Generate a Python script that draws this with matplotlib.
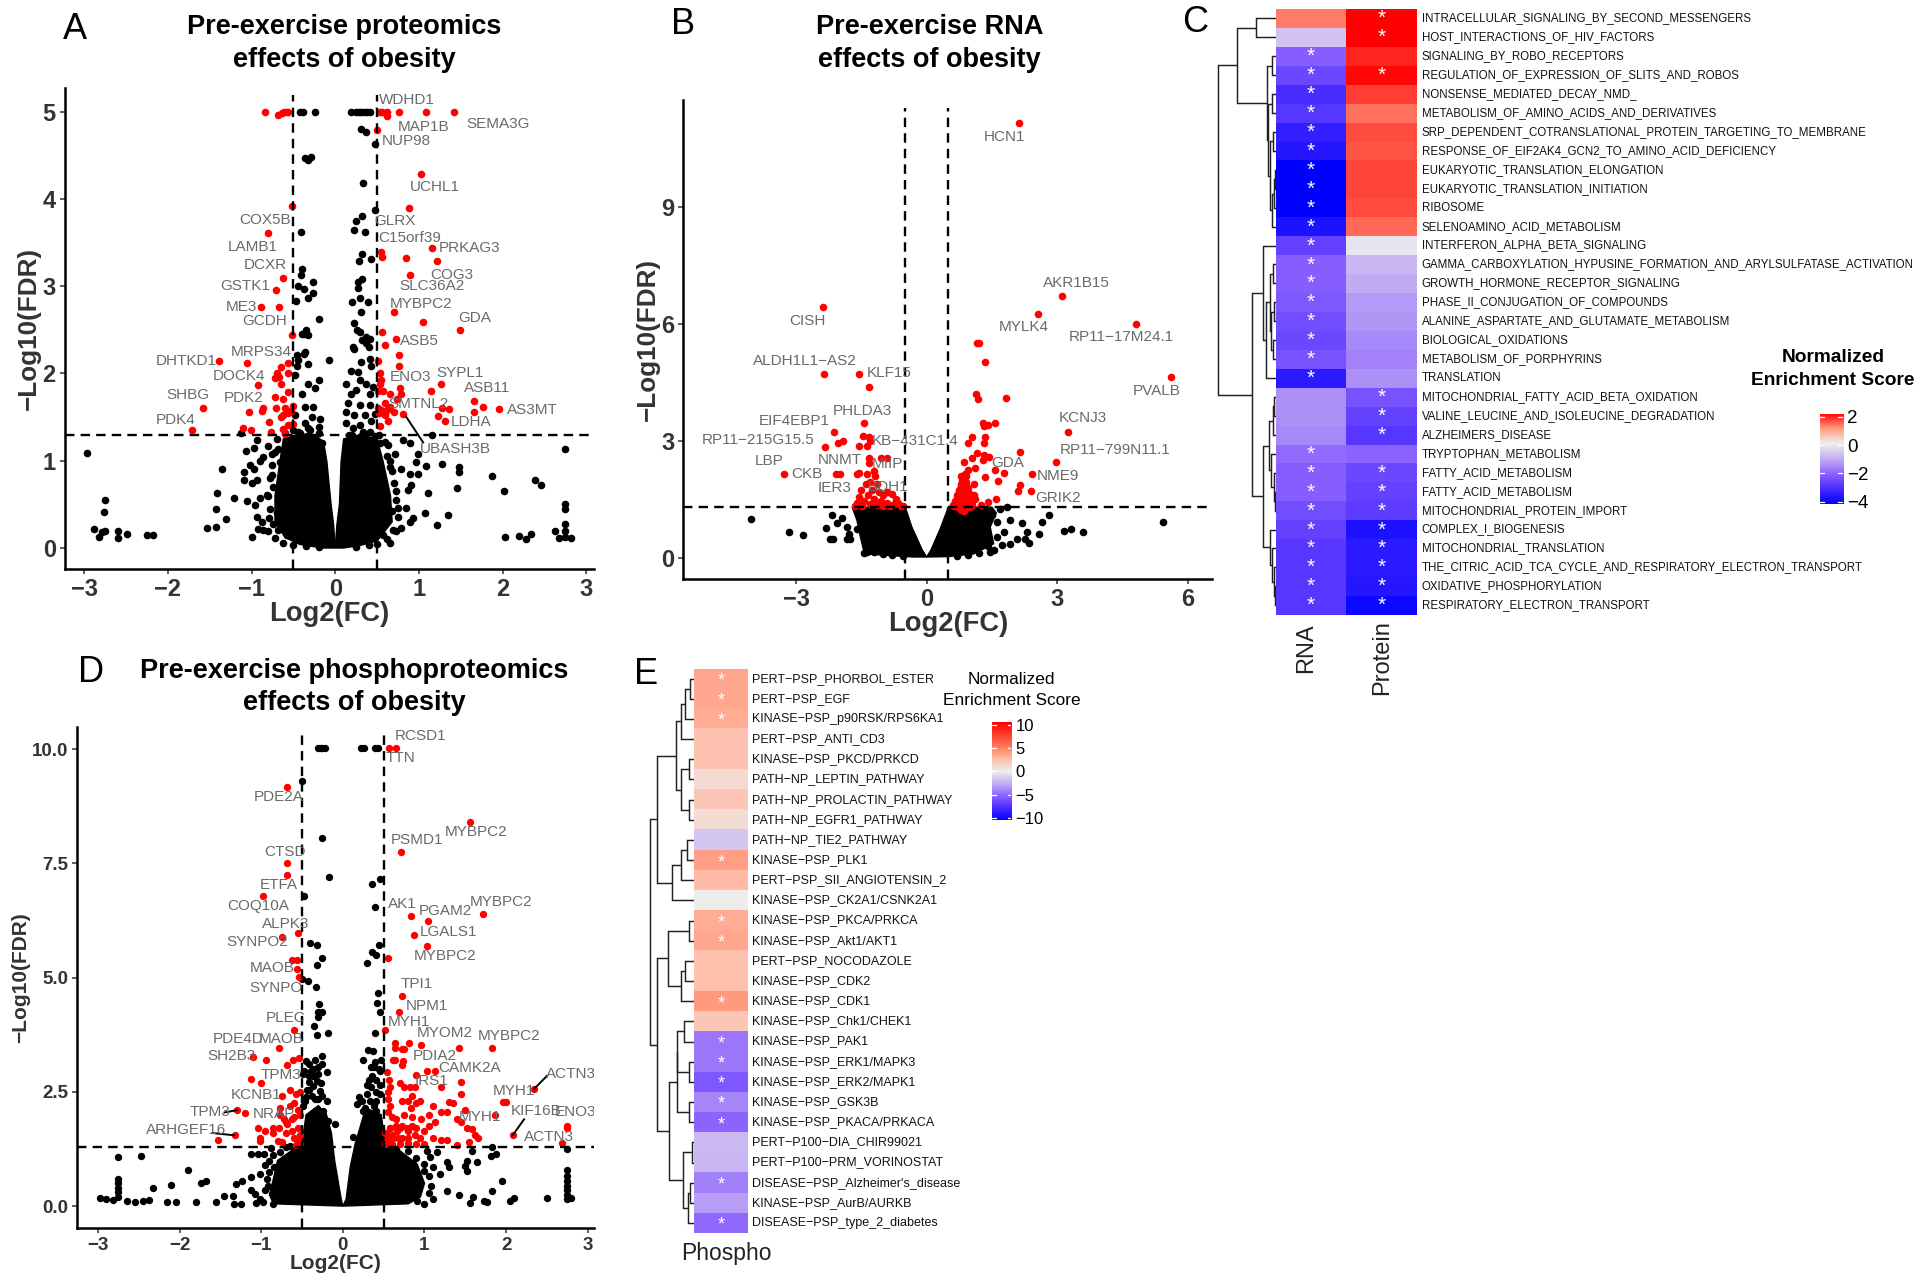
import matplotlib
matplotlib.use("Agg")
import matplotlib.pyplot as plt
import numpy as np
from matplotlib.colors import LinearSegmentedColormap

plt.rcParams['font.family'] = ['Liberation Sans', 'DejaVu Sans']

# ---------- Panel A data ----------
A_red = [(-.84,5),(-.61,5),(-.56,5),(-.58,5),(.53,5),(.56,5),(.62,5),(.76,5),(1.08,5),(1.42,5),(-.68,4.96),(-.64,4.98),(.62,4.95),(.5,4.79),
(1.02,4.29),(-.52,3.92),(.88,3.9),(-.8,3.61),(1.15,3.44),(.55,3.39),(.56,3.33),(.85,3.32),(1.22,3.29),(.89,3.13),(-.62,3.09),(-.71,2.96),(-.89,2.76),(-.67,2.76),
(.7,2.7),(1.05,2.59),(1.49,2.5),(.56,2.47),(-.52,2.44),(.73,2.39),(.59,2.33),(.76,2.21),(.51,2.14),(.76,2.09),(-1.39,2.14),(-1.06,2.12),(-.56,2.12),(-.65,2.08),(-.69,2.01),(-.56,2.0),(-.72,1.95),(-.67,1.96),(-.65,1.88),(-.92,1.87),
(.53,2.0),(.55,1.92),(.54,1.88),(1.26,1.88),(.77,1.83),(1.14,1.8),(.51,1.8),(.57,1.8),(-.56,1.79),(.66,1.76),(.79,1.76),(.74,1.71),(-.72,1.73),(-.62,1.71),(1.66,1.68),(1.77,1.62),(-1.58,1.6),(1.96,1.59),(1.66,1.56),(1.28,1.6),(1.36,1.59),(1.23,1.51),(1.31,1.45),(.81,1.54),
(-1.03,1.56),(-.86,1.6),(-.87,1.57),(-.71,1.61),(-.6,1.6),(-.5,1.63),(-.53,1.57),(-.57,1.55),(-.65,1.5),(-.62,1.53),(-.79,1.44),(-.56,1.41),(-.51,1.42),(-.62,1.36),(-.77,1.33),(-1.1,1.38),(-1.01,1.35),(-1.71,1.35),(-.6,1.31),
(.51,1.6),(.55,1.58),(.62,1.58),(.7,1.56),(.59,1.52),(.63,1.46),(.53,1.4),(.6,1.66),(.65,1.62),(.52,1.55)]
A_blk = [(-.42,5),(-.38,5),(-.24,5),(.19,5),(.25,5),(.28,5),(.31,5),(.34,5),(.38,5),(.42,5),(.31,4.8),(.37,4.77),(.48,4.63),(-.36,4.47),(-.33,4.45),(-.29,4.48),(.33,4.18),(.48,3.87),(.32,3.81),(.25,3.75),(.23,3.65),(.36,3.62),(-.41,3.62),(.32,3.37),(.43,3.31),(.28,3.29),
(-.4,3.2),(-.41,3.13),(-.45,3.0),(-.37,2.97),(-.26,3.05),(-.27,2.92),(-.33,2.86),(-.47,2.83),(-.2,2.62),(-.35,2.5),(-.37,2.45),(-.32,2.44),(-.4,2.45),(-.37,2.22),(-.45,2.15),
(.32,3.08),(.27,3.05),(.27,2.98),(.3,2.87),(.39,2.82),(.2,2.82),(.31,2.71),(.22,2.58),(.26,2.5),(.3,2.48),(.37,2.42),(.42,2.4),(.32,2.38),(.37,2.35),(.4,2.3),(.23,2.28),
# dots round the left of the dense cloud
(-1.13,1.32),(-.94,1.24),(-.97,1.15),(-1.07,1.11),(-.8,1.17),(-.76,1.08),(-.86,1.04),(-.9,1.0),(-1.02,.95),(-1.09,.87),(-.97,.91),(-.94,.78),(-1.09,.78),(-1.0,.74),(-1.35,.91),(-1.41,.63),(-1.21,.57),(-1.06,.54),(-1.42,.45),(-1.3,.33),(-1.53,.23),(-1.43,.24),(-1.0,.13),(-.96,.49),(-.94,.36),(-.9,.57),(-.82,.61),(-.76,.84),(-.79,.34),(-.88,.3),(-.92,.22),(-.86,.21),(-.68,.21),(-.66,.99),(-.68,1.14),(-.58,.15),(-.74,.27),
(-.7,1.25),(-.72,1.1),(-.75,.95),(-.78,.8),(-.8,.6),(-.78,.45),(-.8,.2),(-.72,.12),(-.62,.06),(-.5,.03),(-.35,.02),(-.2,.01),(-.6,1.32),(-.5,1.35),(-.42,1.32),(-.3,1.35),(-.2,1.32),(-.74,.7),(-.7,.4),
(-2.97,1.09),(-2.88,.22),(-2.75,.55),(-2.76,.41),(-2.82,.13),(-2.79,.18),(-2.75,.2),(-2.6,.2),(-2.6,.12),(-2.49,.16),(-2.25,.15),(-2.18,.15),
# dots round the right of the dense cloud
(1.15,1.29),(.81,1.24),(.89,1.2),(.63,1.18),(.53,1.2),(.71,1.08),(.99,1.08),(.97,.99),(1.09,.94),(1.27,.96),(1.48,.93),(1.48,.87),(1.46,.69),(1.11,.63),(.99,.85),(.89,.85),(.79,.91),(.91,.72),(.87,.67),(.65,.93),(.73,.65),(.85,.46),(1.07,.4),(1.35,.38),(1.21,.26),(.93,.34),(.89,.3),(.79,.23),(.69,.21),(.65,.06),(.57,.15),(.75,.46),
(.6,1.22),(.62,1.05),(.68,.88),(.7,.75),(.72,.55),(.75,.35),(.72,.2),(.62,.1),(.5,.05),(.4,.03),(.25,.01),(.52,1.3),(.33,1.33),(.2,1.3),(.66,1.0),(.68,.42),
(2.75,1.13),(2.75,.5),(2.75,.45),(2.75,.27),(2.75,.2),(2.62,.2),(2.67,.12),(2.75,.13),(2.82,.12),(2.03,.13),(2.2,.14),(2.28,.1),(2.34,.16),(1.87,.82),(2.02,.65),(2.39,.78),(2.46,.72),
# dots of the two stems above the cloud
(-.46,2.21),(-.36,2.25),(-.33,2.11),(-.46,2.09),(-.2,1.92),(-.48,1.98),(-.32,1.88),(-.24,1.83),(-.4,1.77),(-.36,1.62),(-.26,1.62),(-.28,1.5),(-.18,1.48),(-.2,1.39),(-.36,1.43),(-.48,1.52),(-.32,1.37),(-.44,1.33),(-.24,1.24),(-.16,1.2),(-.34,1.28),(-.07,2.16),
(.21,2.3),(.31,2.13),(.19,2.03),(.13,1.88),(.41,2.17),(.43,2.09),(.27,2.02),(.29,1.92),(.25,1.81),(.41,1.77),(.19,1.77),(.37,1.88),(.45,1.85),(.15,1.66),(.29,1.64),(.41,1.64),(.47,1.54),(.13,1.56),(.23,1.52),(.35,1.52),(.13,1.43),(.21,1.37),(.29,1.41),(.43,1.45),(.17,1.29),(.41,1.33),(.31,1.28),(.47,1.28)]
A_cloud_lx = [-.02,-.05,-.1,-.14,-.25,-.45,-.62,-.66,-.72,-.72,-.6,-.42,-.15,0]
A_cloud_ly = [.27,.5,.99,1.22,1.3,1.3,1.25,1.0,.6,.3,.12,.04,0,0]
A_cloud_rx = [.02,.05,.07,.1,.3,.5,.57,.66,.68,.5,.3,.1,0]
A_cloud_ry = [.27,.5,.99,1.25,1.3,1.25,1.0,.6,.3,.08,.03,0,0]
A_genes = [("WDHD1",.86,5.14),("MAP1B",1.05,4.83),("SEMA3G",1.95,4.86),("NUP98",.85,4.66),("UCHL1",1.19,4.14),("COX5B",-.84,3.76),("GLRX",.71,3.75),("C15orf39",.89,3.55),("PRKAG3",1.6,3.44),("LAMB1",-.98,3.45),("DCXR",-.83,3.24),("COG3",1.39,3.13),("SLC36A2",1.15,3.0),("GSTK1",-1.08,3.0),("MYBPC2",1.02,2.8),("ME3",-1.12,2.76),("GCDH",-.84,2.6),("GDA",1.66,2.64),("ASB5",1.0,2.37),("MRPS34",-.89,2.25),("DHTKD1",-1.78,2.14),("DOCK4",-1.15,1.97),("ENO3",.9,1.96),("SYPL1",1.49,2.01),("ASB11",1.82,1.83),("SHBG",-1.76,1.75),("PDK2",-1.1,1.72),("SMTNL2",.99,1.65),("AS3MT",2.36,1.58),("LDHA",1.62,1.44),("PDK4",-1.91,1.47),("UBASH3B",1.43,1.13)]
A_links = [((.85,1.5),(1.05,1.21))]

# ---------- Panel B data ----------
B_red = [(2.13,11.17),(3.1,6.72),(-2.39,6.43),(2.55,6.26),(4.81,6.01),(1.15,5.52),(1.2,5.52),(1.35,5.04),(5.62,4.64),(-2.35,4.72),(-1.55,4.72),(-1.33,4.39),(1.13,4.21),(1.19,4.08),(1.83,4.1),(1.56,3.46),(1.3,3.46),(1.41,3.41),(1.31,3.38),(-1.45,3.45),(-2.13,3.24),(3.25,3.24),(-1.47,3.13),(-1.32,3.09),(1.05,3.09),(1.35,3.11),(-1.92,3.0),(-2.03,2.94),(-1.29,2.99),(.96,2.94),(1.32,2.94),(-2.33,2.85),(-1.55,2.86),(-1.38,2.86),(2.15,2.72),(1.16,2.7),(1.31,2.65),(1.43,2.59),(1.04,2.57),(1.3,2.51),(-1.32,2.57),(-1.05,2.57),(-.9,2.57),(-1.32,2.44),(2.96,2.47),(.86,2.47),(1.11,2.31),(.96,2.26),(1.56,2.25),(1.78,2.18),(2.42,2.16),(-3.28,2.16),(-2.08,2.14),(-1.99,2.16),(-1.55,2.18),(-1.59,2.14),(-1.2,2.24),(-1.36,2.14),(-1.19,2.1),(1.35,2.08),(.8,2.1),(.89,2.16),(1.63,1.97),(2.15,1.86),(2.09,1.72),(2.4,1.71),(1.08,1.89),(1.59,1.51),(1.41,1.43),(1.24,1.35),
(.8,1.9),(.9,1.95),(.75,1.75),(.85,1.75),(.95,1.8),(.7,1.6),(.8,1.6),(.9,1.6),(1.0,1.65),(.65,1.45),(.75,1.45),(.85,1.45),(.95,1.5),(1.05,1.45),(.6,1.35),(.7,1.33),(.8,1.33),(.9,1.33),(1.0,1.33),(1.1,1.5),(.78,1.22),(.85,1.2),
(.65,1.38),(.75,1.38),(.85,1.38),(.95,1.38),(.7,1.5),(.8,1.5),(.9,1.5),(1.0,1.5),(.75,1.7),(.85,1.65),(.95,1.65),(.8,1.85),(.9,1.85),(.82,2.0),(.9,2.1),(1.05,1.35),(1.08,1.6),(.62,1.33),(.72,1.3),(.82,1.3),(.92,1.3),(1.0,1.3),
(-1.3,1.95),(-1.4,1.9),(-1.5,1.75),(-1.55,1.55),(-1.6,1.4),(-1.65,1.33),(-1.45,1.45),(-1.35,1.6),(-1.25,1.75),(-1.15,1.9),(-1.1,1.7),(-1.0,1.6),(-.9,1.7),(-.8,1.65),(-.7,1.5),(-.65,1.4),(-.6,1.33),(-1.2,1.5),(-1.05,1.45),(-.9,1.4),(-.75,1.38),(-1.3,1.38),(-1.15,1.35),(-1.0,1.33),(-.85,1.33),(-1.48,1.33),(-.55,1.33)]
B_blk = [(-4.03,1.0),(-3.17,.66),(-2.83,.58),(-2.17,1.09),(-1.94,1.03),(-2.06,.9),(-1.83,.8),(-2.31,.77),(-2.21,.49),(-2.15,.49),(-1.79,.62),(-1.83,.49),(-1.75,.49),(-1.6,.74),(-1.36,.15),(-1.2,.15),(-1.45,.12),(-1.0,.1),(-.8,.06),(-.55,.04),
(1.85,1.3),(1.69,1.26),(1.92,.98),(2.19,.9),(1.62,.92),(1.77,.66),(1.62,.53),(2.3,.66),(2.27,.49),(2.34,.38),(2.07,.49),(1.92,.36),(1.73,.32),(2.65,.93),(2.8,1.09),(3.16,.68),(3.32,.74),(2.57,.62),(3.6,.67),(5.42,.93),(1.4,.3),(1.55,.2),(1.5,1.1),(1.45,.15),(1.2,.12),(.95,.08),(.7,.05)]
B_cloud_lx = [-1.71,-.49,-.34,-.1,0,-.3,-.9,-1.38,-1.45,-1.52,-1.6]
B_cloud_ly = [1.3,1.3,.79,.2,.02,.02,.06,.1,.2,.53,.96]
B_cloud_rx = [.5,1.5,1.6,1.46,1.54,1.08,.5,0,.1,.31]
B_cloud_ry = [1.3,1.3,1.15,.79,.36,.1,.03,.02,.2,.74]
B_genes = [("HCN1",1.78,10.82),("AKR1B15",3.43,7.05),("CISH",-2.73,6.09),("MYLK4",2.22,5.93),("RP11\u221217M24.1",4.48,5.68),("ALDH1L1\u2212AS2",-2.8,5.05),("KLF15",-.87,4.74),("PVALB",5.29,4.29),("PHLDA3",-1.47,3.77),("KCNJ3",3.59,3.58),("EIF4EBP1",-3.03,3.51),("RP11\u2212215G15.5",-3.87,3.02),("KB\u2212431C1.4",-.26,2.99),("RP11\u2212799N11.1",4.33,2.78),("LBP",-3.62,2.49),("NNMT",-2.0,2.52),("MIIP",-.9,2.42),("GDA",1.87,2.43),("CKB",-2.76,2.16),("NME9",3.02,2.1),("IER3",-2.11,1.79),("BDH1",-.88,1.82),("GRIK2",3.03,1.53)]

# ---------- Panel D data ----------
D_red = [(.57,10.03),(.65,10.03),(-.69,9.17),(1.56,8.41),(.71,7.75),(-.68,7.51),(-.69,7.24),(-.98,6.78),(1.72,6.39),(.84,6.36),(1.04,6.23),(.87,5.94),(-.55,5.97),(-.75,5.9),(1.03,5.69),(.55,5.44),(-.62,5.38),(-.56,5.38),(-.56,5.18),(-.54,5.02),(.73,4.59),(.69,4.25),(.52,3.86),(-.6,3.86),(.64,3.56),(.81,3.57),(.96,3.52),(1.42,3.45),(1.83,3.47),(.64,3.46),(.72,3.43),(.75,3.43),(-.78,3.46),(-1.1,3.27),(-.94,3.19),(-.61,3.19),(-.54,3.24),(-.68,3.09),(.61,3.19),(.64,3.2),(.74,3.17),(.73,3.08),(.54,2.94),(1.03,2.95),(1.13,2.95),(.89,2.86),(-1.12,2.78),(-1.0,2.7),
(.56,2.75),(.58,2.6),(.55,2.5),(.7,2.7),(.75,2.6),(.82,2.6),(.88,2.6),(1.2,2.6),(1.45,2.72),(1.45,2.45),(.55,2.35),(.58,2.2),(.72,2.3),(.8,2.3),(.85,2.4),(.9,2.25),(.83,2.15),(.95,2.3),(1.1,2.2),(1.3,2.28),(1.35,2.25),(1.28,2.05),(1.2,2.05),(1.5,2.1),(1.86,2.0),(1.96,2.27),(2.0,2.28),(2.34,2.56),(.55,2.05),(.6,1.95),(.65,1.9),(.75,2.0),(.85,1.95),(.96,1.9),(1.05,2.0),(1.13,1.85),(1.05,1.75),(1.4,1.9),(1.45,1.85),(1.52,1.72),(1.58,1.68),(1.62,1.55),(1.66,1.5),(1.55,1.4),(1.4,1.33),(1.28,1.45),(1.2,1.45),(1.1,1.5),(1.0,1.65),(.9,1.7),(.85,1.75),(.8,1.65),(.72,1.75),(.65,1.75),(.58,1.7),(.52,1.6),(.55,1.5),(.6,1.55),(.67,1.5),(.73,1.5),(.8,1.5),(.88,1.55),(.95,1.5),(1.0,1.35),(.9,1.35),(.8,1.38),(.7,1.35),(.6,1.35),(.52,1.35),(.58,1.42),(2.08,1.55),(2.68,1.38),(2.75,1.75),(2.75,1.7),
(.54,1.58),(.58,1.72),(.62,1.5),(.66,1.65),(.7,1.72),(.78,1.72),(.54,1.43),
(-1.3,2.1),(-1.2,2.03),(-1.32,1.55),(-1.53,1.45),(-1.04,1.7),(-.95,1.65),(-1.02,1.5),(-1.02,1.42),(-.85,1.6),(-.8,1.42),(-.75,1.4),(-.85,1.72),(-.78,1.7),(-.7,1.6),(-.62,1.65),(-.55,1.7),(-.6,1.5),(-.52,1.55),(-.72,1.9),(-.77,2.15),(-.77,2.0),(-.75,2.4),(-.65,2.55),(-.58,2.45),(-.52,2.5),(-.65,2.2),(-.6,2.25),(-.55,2.1),(-.52,2.0),(-.6,1.95),(-.68,1.8),(-.55,1.4),(-.52,1.35),(-.58,1.33),(-.55,1.5),(-.62,1.9),(-.7,1.85)]
D_blk = [(-.3,10.03),(-.27,10.03),(-.25,10.03),(-.22,10.03),(.22,10.03),(.26,10.03),(.39,10.03),(.43,10.03),(-.5,9.3),(-.26,8.05),(-.17,7.2),(.46,7.15),(.36,7.05),(-.47,6.78),(.39,6.55),(-.4,5.75),(-.32,5.72),(.44,5.72),(.36,5.57),(.4,5.5),(-.26,5.42),(.3,5.33),(-.32,5.27),(-.5,4.97),(-.43,4.93),(-.33,4.8),(.43,4.67),(.42,4.45),(-.29,4.42),(-.3,4.25),(-.26,4.25),(-.31,4.15),(.46,4.25),(-.35,3.95),(-.18,3.8),(.39,3.8),(-.32,3.75),
# stems above the cloud
(-.26,3.29),(-.45,3.18),(-.34,3.2),(-.49,2.89),(-.39,2.96),(-.2,2.93),(-.41,2.71),(-.32,2.74),(-.28,2.53),(-.45,2.38),(-.34,2.34),(-.49,2.2),(-.24,2.09),(-.34,2.09),(-.1,1.8),(-.18,1.87),(-.42,3.1),(-.3,3.05),(-.36,2.85),(-.44,2.55),
(-.42,2.55),(-.38,2.4),(-.46,2.3),(-.3,2.35),(-.27,2.7),(-.36,3.0),(-.47,2.95),(-.42,2.85),(-.3,2.9),(-.25,3.1),(-.37,2.62),(-.25,2.4),(-.2,2.3),
(.31,3.42),(.37,3.39),(.25,3.2),(.39,3.15),(.35,3.04),(.45,2.96),(.29,2.64),(.35,2.6),(.45,2.64),(.2,2.38),(.33,2.31),(.41,2.31),(.17,2.23),(.25,2.09),(.41,2.09),(.13,1.52),(.47,3.2),(.41,2.75),
(.3,2.45),(.4,2.5),(.46,2.45),(.24,2.3),(.38,2.2),(.32,2.75),(.36,2.85),(.44,3.0),(.38,3.05),(.27,2.15),
# left tail
(-1.12,1.15),(-1.04,1.15),(-.96,1.14),(-.88,1.28),(-.77,1.18),(-.9,.99),(-.84,.85),(-1.02,.7),(-1.12,.63),(-1.23,.55),(-1.31,.48),(-.92,.45),(-1.12,.36),(-1.08,.26),(-1.02,.15),(-1.06,.06),(-1.45,.23),(-1.35,.23),(-1.55,.09),(-1.33,.04),(-1.25,.04),(-1.68,.55),(-1.74,.5),(-1.9,.8),(-2.05,.08),(-2.15,.08),(-1.8,.1),(-2.33,.4),(-2.1,.47),
(-.95,.9),(-.9,.75),(-.93,.6),(-.95,.35),(-.98,.1),(-.85,.04),(-.7,1.3),(-.65,1.32),(-.85,1.12),
(-2.75,1.07),(-2.47,1.1),(-2.98,.18),(-2.9,.15),(-2.82,.14),(-2.75,.6),(-2.75,.5),(-2.75,.4),(-2.75,.3),(-2.75,.2),(-2.65,.12),(-2.55,.1),(-2.45,.12),(-2.38,.13),
# right tail
(1.83,1.3),(1.58,1.21),(1.07,1.07),(1.15,1.18),(1.27,.96),(1.3,.85),(1.52,.99),(1.5,.88),(1.64,.96),(1.81,1.1),(1.87,1.14),(1.52,.77),(1.27,.34),(1.42,.25),(1.6,.2),(1.83,.34),(1.73,.12),(1.56,.06),(1.77,.08),(1.11,.85),(1.19,.7),(1.03,1.21),(.91,.12),(.86,.92),(.99,.77),(1.95,.55),(2.05,.12),(2.1,.18),(2.5,.18),
(.8,1.2),(.9,1.05),(1.0,.92),(1.05,.65),(1.08,.45),(1.05,.28),(1.1,.15),(1.0,.05),(.65,1.25),
(2.75,1.25),(2.75,.78),(2.75,.65),(2.75,.55),(2.75,.45),(2.75,.35),(2.75,.25),(2.75,.15),(2.8,.18)]
D_cloud_lx = [-.02,-.1,-.14,-.2,-.3,-.45,-.5,-.6,-.8,-.85,-.9,-.85,0]
D_cloud_ly = [.15,.99,1.6,2.0,2.2,2.0,1.4,1.25,1.0,.6,.25,.05,0]
D_cloud_rx = [.04,.09,.15,.21,.28,.47,.52,.7,.91,1.0,.95,.8,0]
D_cloud_ry = [.15,.85,1.36,1.72,2.15,2.0,1.35,1.21,.92,.5,.2,.05,0]
D_genes = [("RCSD1",.95,10.29),("TTN",.7,9.8),("PDE2A",-.78,8.95),("MYBPC2",1.63,8.19),("PSMD1",.91,8.01),("CTSD",-.71,7.76),("ETFA",-.78,7.03),("AK1",.73,6.61),("COQ10A",-1.04,6.56),("MYBPC2",1.94,6.65),("PGAM2",1.25,6.47),("ALPK3",-.7,6.18),("LGALS1",1.3,6.0),("SYNPO2",-1.05,5.78),("MYBPC2",1.25,5.48),("MAOB",-.86,5.22),("SYNPO",-.82,4.77),("TPI1",.9,4.86),("NPM1",1.03,4.37),("PLEC",-.7,4.12),("MYH1",.81,4.04),("MYOM2",1.25,3.78),("MYBPC2",2.04,3.73),("PDE4D",-1.28,3.65),("MAOB",-.75,3.65),("SH2B3",-1.36,3.29),("PDIA2",1.13,3.29),("CAMK2A",1.55,3.02),("TPM3",-.76,2.87),("IRS1",1.09,2.73),("ACTN3",2.8,2.9),("MYH1",2.1,2.53),("KCNB1",-1.06,2.44),("KIF16B",2.37,2.08),("ENO3",2.85,2.06),("TPM3",-1.63,2.07),("NRAP",-.85,2.01),("MYH1",1.68,1.95),("ARHGEF16",-1.92,1.66),("ACTN3",2.52,1.51)]
D_links = [((2.34,2.56),(2.5,2.85)),((2.08,1.55),(2.22,1.9)),((-1.45,2.05),(-1.3,2.1)),((-1.6,1.6),(-1.33,1.55))]

# ---------- Panel C data ----------
C_terms = ["INTRACELLULAR_SIGNALING_BY_SECOND_MESSENGERS","HOST_INTERACTIONS_OF_HIV_FACTORS","SIGNALING_BY_ROBO_RECEPTORS","REGULATION_OF_EXPRESSION_OF_SLITS_AND_ROBOS","NONSENSE_MEDIATED_DECAY_NMD_","METABOLISM_OF_AMINO_ACIDS_AND_DERIVATIVES","SRP_DEPENDENT_COTRANSLATIONAL_PROTEIN_TARGETING_TO_MEMBRANE","RESPONSE_OF_EIF2AK4_GCN2_TO_AMINO_ACID_DEFICIENCY","EUKARYOTIC_TRANSLATION_ELONGATION","EUKARYOTIC_TRANSLATION_INITIATION","RIBOSOME","SELENOAMINO_ACID_METABOLISM","INTERFERON_ALPHA_BETA_SIGNALING","GAMMA_CARBOXYLATION_HYPUSINE_FORMATION_AND_ARYLSULFATASE_ACTIVATION","GROWTH_HORMONE_RECEPTOR_SIGNALING","PHASE_II_CONJUGATION_OF_COMPOUNDS","ALANINE_ASPARTATE_AND_GLUTAMATE_METABOLISM","BIOLOGICAL_OXIDATIONS","METABOLISM_OF_PORPHYRINS","TRANSLATION","MITOCHONDRIAL_FATTY_ACID_BETA_OXIDATION","VALINE_LEUCINE_AND_ISOLEUCINE_DEGRADATION","ALZHEIMERS_DISEASE","TRYPTOPHAN_METABOLISM","FATTY_ACID_METABOLISM","FATTY_ACID_METABOLISM","MITOCHONDRIAL_PROTEIN_IMPORT","COMPLEX_I_BIOGENESIS","MITOCHONDRIAL_TRANSLATION","THE_CITRIC_ACID_TCA_CYCLE_AND_RESPIRATORY_ELECTRON_TRANSPORT","OXIDATIVE_PHOSPHORYLATION","RESPIRATORY_ELECTRON_TRANSPORT"]
C_rna = [1.2,-.7,-2.1,-2.5,-3.0,-2.8,-3.3,-3.5,-4,-4,-4,-3.6,-2.6,-2.1,-2.1,-2.2,-2.4,-2.5,-2.3,-3.4,-1.4,-1.4,-1.5,-1.9,-2.1,-2.1,-2.4,-2.6,-2.8,-2.8,-2.8,-2.8]
C_prot = [2,2,1.75,1.95,1.6,1.25,1.5,1.45,1.55,1.55,1.5,1.3,-.15,-.9,-1.05,-1.3,-1.35,-1.5,-1.6,-1.4,-2.3,-2.6,-2.8,-2.0,-2.5,-2.6,-2.7,-3.6,-3.4,-3.4,-3.5,-3.8]
C_rna_sig = [0,0]+[1]*18+[0,0,0]+[1]*9
C_prot_sig = [1,1,0,1]+[0]*16+[1,1,1,0]+[1]*8
C_tree = (1.0,(.675,(.35,0,1),(.15,(.07,2,3),(.13,(.06,4,5),(.1,(.05,6,7),(.07,(.03,(.015,8,9),10),11))))),
          (.415,(.22,12,(.17,(.1,(.05,13,14),(.08,(.04,15,16),(.05,17,18))),19)),
           (.22,(.12,(.05,(.03,20,21),22),(.09,23,(.04,24,(.02,25,26)))),(.1,27,(.06,28,(.03,29,(.015,30,31)))))))

# ---------- Panel E data ----------
E_terms = ["PERT\u2212PSP_PHORBOL_ESTER","PERT\u2212PSP_EGF","KINASE\u2212PSP_p90RSK/RPS6KA1","PERT\u2212PSP_ANTI_CD3","KINASE\u2212PSP_PKCD/PRKCD","PATH\u2212NP_LEPTIN_PATHWAY","PATH\u2212NP_PROLACTIN_PATHWAY","PATH\u2212NP_EGFR1_PATHWAY","PATH\u2212NP_TIE2_PATHWAY","KINASE\u2212PSP_PLK1","PERT\u2212PSP_SII_ANGIOTENSIN_2","KINASE\u2212PSP_CK2A1/CSNK2A1","KINASE\u2212PSP_PKCA/PRKCA","KINASE\u2212PSP_Akt1/AKT1","PERT\u2212PSP_NOCODAZOLE","KINASE\u2212PSP_CDK2","KINASE\u2212PSP_CDK1","KINASE\u2212PSP_Chk1/CHEK1","KINASE\u2212PSP_PAK1","KINASE\u2212PSP_ERK1/MAPK3","KINASE\u2212PSP_ERK2/MAPK1","KINASE\u2212PSP_GSK3B","KINASE\u2212PSP_PKACA/PRKACA","PERT\u2212P100\u2212DIA_CHIR99021","PERT\u2212P100\u2212PRM_VORINOSTAT","DISEASE\u2212PSP_Alzheimer's_disease","KINASE\u2212PSP_AurB/AURKB","DISEASE\u2212PSP_type_2_diabetes"]
E_vals = [3.3,3.3,3.1,2.2,2.2,1.0,2.0,.9,-1.6,3.6,2.5,0,3.1,3.3,2.3,2.4,3.8,2.0,-4.3,-4.3,-5.5,-3.9,-5.0,-2.1,-2.2,-4.0,-3.1,-4.8]
E_sig = [1,1,1,0,0,0,0,0,0,1,0,0,1,1,0,0,1,0,1,1,1,1,1,0,0,1,0,1]
E_tree = (1.0,(.84,(.41,(.31,(.2,(.1,0,1),2),3),(.3,(.12,4,5),(.13,6,7))),(.51,(.3,(.17,8,9),10),11)),
          (.84,(.6,(.13,12,13),(.31,(.2,14,15),16)),(.56,(.38,(.38,(.24,17,18),(.12,19,20)),(.13,21,22)),(.25,(.05,23,24),(.15,(.1,25,26),27)))))

# ---------- helpers ----------
W, H = 1920, 1286
R = 1920/1568
fig = plt.figure(figsize=(W/100, H/100), dpi=100, facecolor='white')

def box(l, t, r, b):
    return fig.add_axes([l*R/W, 1-b*R/H, (r-l)*R/W, (b-t)*R/H])

def ftext(x, y, s, **kw):
    fig.text(x*R/W, 1-y*R/H, s, ha=kw.pop('ha','center'), va=kw.pop('va','center'), **kw)

def volcano(ax, red, blk, cl, cr, genes, links, xlim, ylim, xticks, yticks, yfmt, s, tick_fs, xlab_fs, ylab_fs, lab_pad):
    ax.set_xlim(*xlim); ax.set_ylim(*ylim)
    ax.fill(cl[0], cl[1], color='black', lw=1, zorder=1)
    ax.fill(cr[0], cr[1], color='black', lw=1, zorder=1)
    bx, by = zip(*blk); ax.scatter(bx, by, s=s, c='black', linewidths=0, zorder=2)
    rx, ry = zip(*red); ax.scatter(rx, ry, s=s, c='#ff0000', linewidths=0, zorder=3)
    for v in (-.5, .5):
        ax.axvline(v, ymax=.985, color='black', lw=1.7, ls=(0,(4,2.6)), zorder=4)
    ax.axhline(1.3, color='black', lw=1.7, ls=(0,(4,2.6)), zorder=4)
    for (a, b) in links:
        ax.plot([a[0], b[0]], [a[1], b[1]], color='black', lw=1.4, zorder=4)
    for g, x, y in genes:
        ax.text(x, y, g, color='#6a6a6a', fontsize=11, ha='center', va='center', clip_on=True, zorder=5)
    for sp in ('top', 'right'):
        ax.spines[sp].set_visible(False)
    for sp in ('left', 'bottom'):
        ax.spines[sp].set_linewidth(1.8)
    ax.set_xticks(xticks); ax.set_yticks(yticks)
    ax.set_yticklabels([yfmt.format(v) for v in yticks])
    ax.set_xticklabels([str(v).replace('-', '\u2212') for v in xticks])
    ax.tick_params(length=3.5, width=1.1, color='#333333', labelsize=tick_fs, labelcolor='#333333', pad=3)
    for t in ax.get_xticklabels()+ax.get_yticklabels():
        t.set_fontweight('bold')
    ax.set_xlabel('Log2(FC)', fontsize=xlab_fs, fontweight='bold', color='#333333', labelpad=lab_pad)
    ax.set_ylabel('\u2212Log10(FDR)', fontsize=ylab_fs, fontweight='bold', color='#333333', labelpad=lab_pad+1)

def tree(ax, node):
    if not isinstance(node, tuple):
        return float(node), 0.0
    h, a, b = node
    ya, ha = tree(ax, a); yb, hb = tree(ax, b)
    ax.plot([ha, h, h, hb], [ya, ya, yb, yb], color='#222222', lw=1.05, solid_capstyle='butt', solid_joinstyle='miter')
    return (ya+yb)/2, h

def dendro(l, t, r, b, node, n):
    ax = box(l, t, r, b)
    ax.set_xlim(1.02, 0); ax.set_ylim(n-.5, -.5); ax.axis('off')
    tree(ax, node)

stops = ['#0000ff', '#4a2dff', '#8d63ff', '#c5b0f3', '#eeeeee', '#ff9a80', '#ff0000']
pos_c = [0, 1/6, 2/6, .5, 4/6, 5/6, 1]
cmap_c = LinearSegmentedColormap.from_list('c', list(zip(pos_c, stops)))
pos_e = [0, .125, .25, .375, .5, .625, .75, 1]
stops_e = ['#0000ff', '#4a2dff', '#8d63ff', '#c5b0f3', '#eeeeee', '#ffbda8', '#ff7a5a', '#ff0000']
cmap_e = LinearSegmentedColormap.from_list('e', list(zip(pos_e, stops_e)))

def colorbar(l, t, r, b, vmin, vmax, cmap, ticks, fs):
    ax = box(l, t, r, b)
    grad = np.linspace(vmax, vmin, 256).reshape(-1, 1)
    ax.imshow(grad, cmap=cmap, vmin=vmin, vmax=vmax, aspect='auto', extent=[0, 1, vmin, vmax])
    for sp in ax.spines.values():
        sp.set_visible(False)
    ax.set_xticks([])
    ax.yaxis.tick_right()
    ax.set_yticks(ticks)
    ax.set_yticklabels([str(v).replace('-', '\u2212') for v in ticks])
    ax.tick_params(axis='y', length=0, labelsize=fs, pad=3)
    for v in ticks:
        ax.plot([0, .2], [v, v], color='white', lw=.9)
        ax.plot([.8, 1], [v, v], color='white', lw=.9)
    ax.set_xlim(0, 1); ax.set_ylim(vmin, vmax)

TS = 19.5
# ---------- Panel A ----------
axA = box(53, 72, 485, 465)
volcano(axA, A_red, A_blk, (A_cloud_lx, A_cloud_ly), (A_cloud_rx, A_cloud_ry), A_genes, A_links,
        (-3.23, 3.09), (-.245, 5.27), [-3,-2,-1,0,1,2,3], [0,1,2,3,4,5], '{}', 30, 17, 19.7, 18.8, 0)
ftext(281, 22, 'Pre-exercise proteomics', fontsize=TS, fontweight='bold')
ftext(281, 49, 'effects of obesity', fontsize=TS, fontweight='bold')
ftext(61, 24, 'A', fontsize=26)

# ---------- Panel B ----------
axB = box(558, 82, 990, 473)
volcano(axB, B_red, B_blk, (B_cloud_lx, B_cloud_ly), (B_cloud_rx, B_cloud_ry), B_genes, [],
        (-5.59, 6.56), (-.55, 11.75), [-3,0,3,6], [0,3,6,9], '{}', 30, 17, 19.7, 18.8, 0)
ftext(759, 22, 'Pre-exercise RNA', fontsize=TS, fontweight='bold')
ftext(759, 49, 'effects of obesity', fontsize=TS, fontweight='bold')
ftext(558, 20, 'B', fontsize=26)

# ---------- Panel D ----------
axD = box(63, 594, 485, 1003)
volcano(axD, D_red, D_blk, (D_cloud_lx, D_cloud_ly), (D_cloud_rx, D_cloud_ry), D_genes, D_links,
        (-3.255, 3.075), (-.483, 10.48), [-3,-2,-1,0,1,2,3], [0,2.5,5,7.5,10], '{:.1f}', 28, 13.5, 15, 15, 0)
ftext(289, 548, 'Pre-exercise phosphoproteomics', fontsize=TS, fontweight='bold')
ftext(289, 574, 'effects of obesity', fontsize=TS, fontweight='bold')
ftext(74, 549, 'D', fontsize=26)

# ---------- Panel C ----------
ctop, cbot = 7.3, 502
axC = box(1042, ctop, 1157, cbot)
matC = np.column_stack([C_rna, C_prot])
axC.imshow(matC, cmap=cmap_c, vmin=-4, vmax=2, aspect='auto', interpolation='nearest')
axC.axis('off')
for i in range(len(C_terms)):
    if C_rna_sig[i]:
        axC.text(0, i+.02, '*', color='white', fontsize=15, ha='center', va='center')
    if C_prot_sig[i]:
        axC.text(1, i+.02, '*', color='white', fontsize=15, ha='center', va='center')
    ftext(1161, ctop+(i+.5)*(cbot-ctop)/32, C_terms[i], fontsize=8.3, ha='left', color='#111111')
dendro(994, ctop, 1042, cbot, C_tree, 32)
ftext(1067, 529, 'RNA', fontsize=17, rotation=90, color='#222222')
ftext(1129, 537, 'Protein', fontsize=17, rotation=90, color='#222222')
ftext(1497, 292, 'Normalized', fontsize=13.8, fontweight='bold')
ftext(1497, 311, 'Enrichment Score', fontsize=13.8, fontweight='bold')
ftext(976, 18, 'C', fontsize=26)
colorbar(1486, 338, 1505, 412, -4.2, 2.2, cmap_c, [2,0,-2,-4], 13.5)

# ---------- Panel E ----------
etop, ebot = 546, 1007
axE = box(567, etop, 611, ebot)
axE.imshow(np.array(E_vals).reshape(-1, 1), cmap=cmap_e, vmin=-10, vmax=10, aspect='auto', interpolation='nearest')
axE.axis('off')
for i in range(len(E_terms)):
    if E_sig[i]:
        axE.text(0, i+.12, '*', color='white', fontsize=13, ha='center', va='center')
    ftext(614, etop+(i+.5)*(ebot-etop)/28, E_terms[i], fontsize=9, ha='left', color='#111111')
dendro(530, etop, 567, ebot, E_tree, 28)
ftext(593, 1024, 'Phospho', fontsize=16.5, color='#222222')
ftext(826, 555, 'Normalized', fontsize=12.4)
ftext(826, 572, 'Enrichment Score', fontsize=12.4)
ftext(528, 551, 'E', fontsize=26)
colorbar(810, 590, 826, 670, -10.5, 10.5, cmap_e, [10,5,0,-5,-10], 12)

fig.savefig('out.png', dpi=100)
